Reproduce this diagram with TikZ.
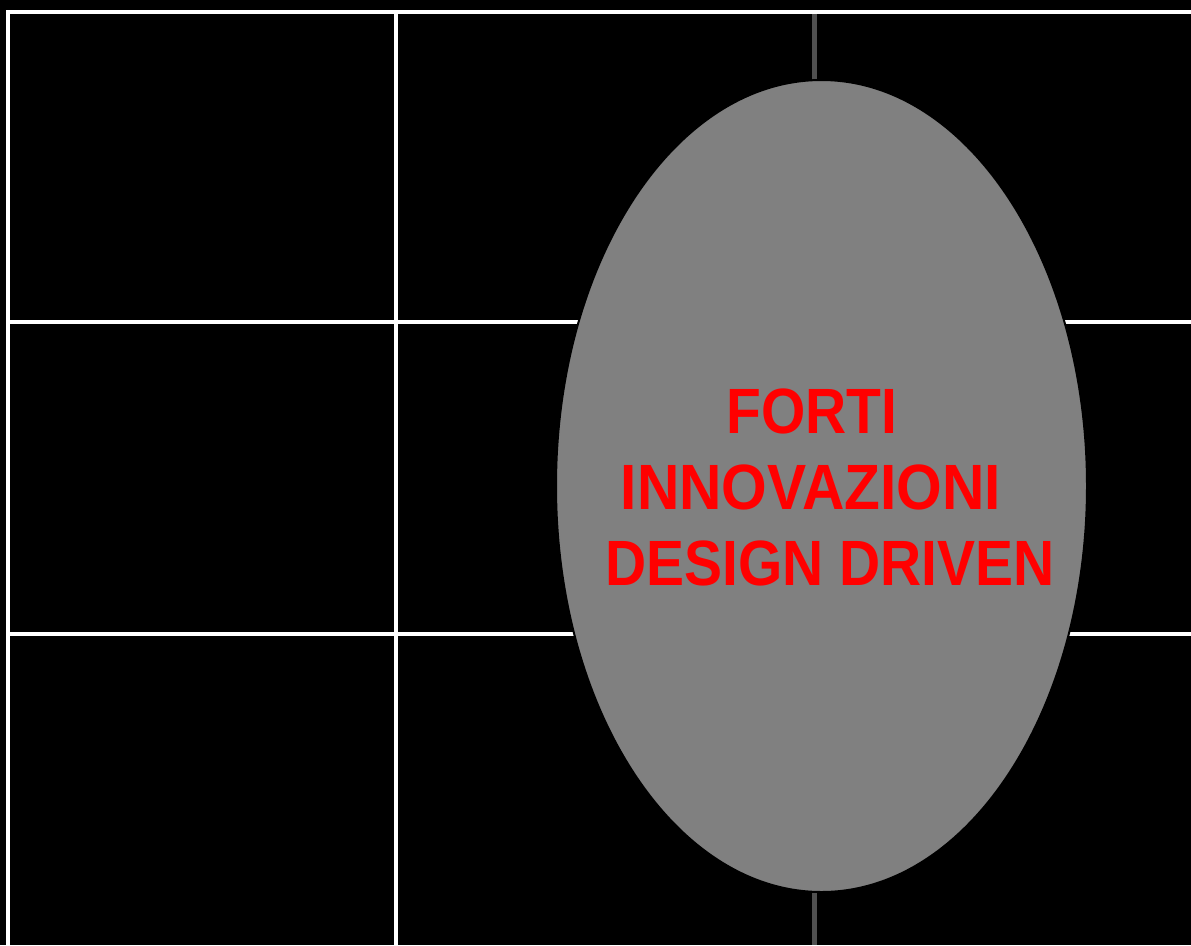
\documentclass[tikz,border=0pt]{standalone}
\usepackage{fontspec}
\setmainfont{Liberation Sans}
\newfontfamily\narrowbold[FakeStretch=0.89]{Liberation Sans Bold}
\usetikzlibrary{shapes.geometric}
\definecolor{ovalgray}{HTML}{808080}
\definecolor{axisgray}{HTML}{505050}
\begin{document}
\begin{tikzpicture}
  [x=1pt,y=-1pt,
   grid/.style={white,line width=4.6pt},
   label/.style={text=red,anchor=base,inner sep=0pt,font=\narrowbold\fontsize{64}{76}\selectfont}]
\fill[black] (0,0) rectangle (1191,945);
\useasboundingbox (0,0) rectangle (1191,945);

% grid
 \foreach \x in {8,396}
    \draw[grid] (\x,10) -- (\x,945);
 \foreach \y in {12,322,634}
    \draw[grid] (6,\y) -- (1191,\y);
\draw[axisgray,line width=5pt] (814,14) -- (814,945);

\node (oval)[ellipse,fill=ovalgray,draw=black,line width=2pt,
  minimum width=531pt,minimum height=812pt,inner sep=0pt] at (821.5,486) {};
\node (l1)[label] at (812,433) {FORTI};
\node (l2)[label,xscale=1.03] at (811,509) {INNOVAZIONI};
\node (l3)[label] at (830,585) {DESIGN DRIVEN};
\end{tikzpicture}
\end{document}
